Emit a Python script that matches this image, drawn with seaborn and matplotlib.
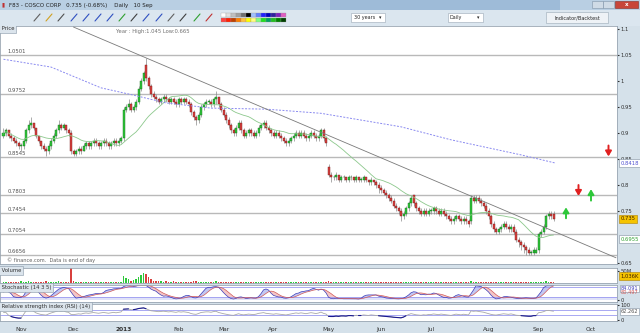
import matplotlib
matplotlib.use("Agg")
import matplotlib.pyplot as plt
import matplotlib.transforms as mtransforms
from matplotlib.patches import Rectangle
import numpy as np
import pandas as pd
import seaborn as sns

# Daily prices (SGD), one row per month, 22 Oct 2012 -> 10 Sep 2013
opens = [
    0.895, 0.900, 0.905, 0.895, 0.890, 0.885, 0.880,
    0.875, 0.875, 0.885, 0.905, 0.915, 0.920, 0.910, 0.895, 0.885, 0.875, 0.870, 0.865, 0.875, 0.885, 0.895, 0.905, 0.915, 0.910, 0.915, 0.905, 0.900,
    0.865, 0.860, 0.865, 0.870, 0.865, 0.875, 0.880, 0.875, 0.880, 0.885, 0.880, 0.875, 0.880, 0.885, 0.880, 0.875, 0.880, 0.885, 0.880, 0.885,
    0.890, 0.945, 0.950, 0.955, 0.945, 0.950, 0.960, 0.985, 1.000, 1.030, 1.005, 0.990, 0.975, 0.970, 0.965, 0.960, 0.965, 0.970, 0.965, 0.960, 0.965, 0.960,
    0.955, 0.965, 0.960, 0.965, 0.960, 0.955, 0.940, 0.930, 0.925, 0.935, 0.950, 0.955, 0.960, 0.960, 0.955, 0.965, 0.970, 0.955,
    0.945, 0.935, 0.925, 0.915, 0.905, 0.900, 0.910, 0.920, 0.905, 0.895, 0.900, 0.905, 0.900, 0.895, 0.900, 0.910, 0.915, 0.920, 0.910, 0.905,
    0.900, 0.895, 0.900, 0.895, 0.890, 0.885, 0.880, 0.885, 0.890, 0.895, 0.900, 0.895, 0.900, 0.895, 0.890, 0.895, 0.900, 0.895, 0.890, 0.895, 0.905, 0.890,
    0.835, 0.820, 0.815, 0.815, 0.820, 0.810, 0.815, 0.815, 0.810, 0.815, 0.815, 0.810, 0.815, 0.810, 0.810, 0.815, 0.810, 0.805, 0.810, 0.805, 0.800,
    0.795, 0.790, 0.785, 0.780, 0.775, 0.770, 0.760, 0.755, 0.750, 0.740, 0.745, 0.755, 0.765, 0.780, 0.765, 0.755, 0.750, 0.745, 0.750, 0.745,
    0.750, 0.750, 0.755, 0.750, 0.745, 0.750, 0.745, 0.740, 0.735, 0.730, 0.735, 0.740, 0.735, 0.730, 0.735, 0.730, 0.730, 0.775, 0.770, 0.775, 0.770, 0.765, 0.760,
    0.750, 0.740, 0.725, 0.715, 0.710, 0.715, 0.720, 0.725, 0.720, 0.715, 0.720, 0.710, 0.695, 0.690, 0.685, 0.680, 0.675, 0.670, 0.670, 0.670,
    0.675, 0.705, 0.710, 0.720, 0.740, 0.745, 0.745,
]
highs = [
    0.910, 0.910, 0.905, 0.900, 0.895, 0.890, 0.885,
    0.880, 0.890, 0.910, 0.925, 0.930, 0.920, 0.910, 0.895, 0.885, 0.880, 0.875, 0.880, 0.890, 0.900, 0.910, 0.925, 0.920, 0.920, 0.915, 0.910, 0.905,
    0.870, 0.870, 0.875, 0.875, 0.880, 0.885, 0.885, 0.885, 0.890, 0.890, 0.885, 0.885, 0.890, 0.890, 0.885, 0.885, 0.890, 0.890, 0.890, 0.895,
    0.950, 0.955, 0.965, 0.960, 0.955, 0.965, 0.990, 1.005, 1.020, 1.045, 1.010, 0.995, 0.980, 0.975, 0.970, 0.970, 0.975, 0.975, 0.970, 0.970, 0.970, 0.965,
    0.970, 0.970, 0.970, 0.970, 0.965, 0.960, 0.945, 0.935, 0.940, 0.955, 0.960, 0.965, 0.965, 0.965, 0.970, 0.980, 0.970, 0.960,
    0.950, 0.940, 0.930, 0.920, 0.910, 0.915, 0.925, 0.925, 0.910, 0.905, 0.910, 0.910, 0.905, 0.905, 0.915, 0.920, 0.925, 0.925, 0.915, 0.910,
    0.905, 0.905, 0.905, 0.900, 0.895, 0.890, 0.890, 0.895, 0.900, 0.905, 0.905, 0.905, 0.905, 0.900, 0.900, 0.905, 0.905, 0.900, 0.900, 0.910, 0.910, 0.895,
    0.840, 0.825, 0.820, 0.825, 0.820, 0.820, 0.820, 0.815, 0.820, 0.820, 0.815, 0.820, 0.815, 0.815, 0.820, 0.815, 0.810, 0.815, 0.810, 0.810, 0.805,
    0.800, 0.795, 0.790, 0.785, 0.780, 0.775, 0.765, 0.760, 0.755, 0.750, 0.760, 0.770, 0.780, 0.780, 0.770, 0.760, 0.755, 0.755, 0.755, 0.755,
    0.755, 0.760, 0.760, 0.755, 0.755, 0.755, 0.750, 0.745, 0.740, 0.740, 0.745, 0.745, 0.740, 0.740, 0.740, 0.735, 0.780, 0.780, 0.780, 0.780, 0.775, 0.770, 0.765,
    0.755, 0.745, 0.730, 0.720, 0.720, 0.725, 0.730, 0.730, 0.725, 0.725, 0.725, 0.715, 0.700, 0.695, 0.690, 0.685, 0.680, 0.675, 0.680, 0.680,
    0.710, 0.715, 0.725, 0.745, 0.750, 0.750, 0.750,
]
lows = [
    0.890, 0.895, 0.890, 0.885, 0.880, 0.875, 0.870,
    0.865, 0.870, 0.880, 0.900, 0.910, 0.905, 0.890, 0.880, 0.870, 0.865, 0.855, 0.860, 0.870, 0.880, 0.890, 0.900, 0.905, 0.905, 0.900, 0.895, 0.860,
    0.855, 0.855, 0.860, 0.860, 0.865, 0.870, 0.870, 0.870, 0.875, 0.875, 0.870, 0.870, 0.875, 0.875, 0.870, 0.870, 0.875, 0.875, 0.875, 0.880,
    0.885, 0.940, 0.945, 0.940, 0.940, 0.945, 0.955, 0.980, 0.995, 1.000, 0.985, 0.970, 0.965, 0.960, 0.955, 0.955, 0.960, 0.960, 0.955, 0.955, 0.955, 0.950,
    0.950, 0.955, 0.955, 0.955, 0.950, 0.935, 0.925, 0.915, 0.920, 0.930, 0.945, 0.950, 0.955, 0.950, 0.950, 0.955, 0.950, 0.940,
    0.930, 0.920, 0.910, 0.900, 0.895, 0.895, 0.905, 0.900, 0.890, 0.890, 0.895, 0.895, 0.890, 0.890, 0.895, 0.905, 0.910, 0.905, 0.900, 0.895,
    0.890, 0.890, 0.890, 0.885, 0.880, 0.875, 0.875, 0.880, 0.885, 0.890, 0.890, 0.890, 0.890, 0.885, 0.885, 0.890, 0.890, 0.885, 0.885, 0.890, 0.885, 0.875,
    0.815, 0.805, 0.810, 0.810, 0.805, 0.805, 0.810, 0.805, 0.805, 0.810, 0.805, 0.805, 0.805, 0.805, 0.805, 0.805, 0.800, 0.800, 0.800, 0.795, 0.785,
    0.785, 0.780, 0.775, 0.770, 0.765, 0.755, 0.750, 0.745, 0.730, 0.735, 0.740, 0.750, 0.760, 0.760, 0.750, 0.745, 0.740, 0.740, 0.740, 0.740,
    0.745, 0.745, 0.745, 0.740, 0.740, 0.740, 0.735, 0.730, 0.725, 0.725, 0.730, 0.730, 0.725, 0.725, 0.725, 0.720, 0.725, 0.765, 0.765, 0.765, 0.760, 0.755, 0.745,
    0.735, 0.720, 0.710, 0.705, 0.705, 0.710, 0.715, 0.715, 0.710, 0.710, 0.705, 0.690, 0.680, 0.675, 0.670, 0.665, 0.665, 0.665, 0.665, 0.670,
    0.670, 0.700, 0.705, 0.715, 0.735, 0.735, 0.730,
]
closes = [
    0.900, 0.905, 0.895, 0.890, 0.885, 0.880, 0.875,
    0.875, 0.885, 0.905, 0.915, 0.920, 0.910, 0.895, 0.885, 0.875, 0.870, 0.865, 0.875, 0.885, 0.895, 0.905, 0.915, 0.910, 0.915, 0.905, 0.900, 0.865,
    0.860, 0.865, 0.870, 0.865, 0.875, 0.880, 0.875, 0.880, 0.885, 0.880, 0.875, 0.880, 0.885, 0.880, 0.875, 0.880, 0.885, 0.880, 0.885, 0.890,
    0.945, 0.950, 0.955, 0.945, 0.950, 0.960, 0.985, 1.000, 1.015, 1.005, 0.990, 0.975, 0.970, 0.965, 0.960, 0.965, 0.970, 0.965, 0.960, 0.965, 0.960, 0.955,
    0.965, 0.960, 0.965, 0.960, 0.955, 0.940, 0.930, 0.925, 0.935, 0.950, 0.955, 0.960, 0.960, 0.955, 0.965, 0.970, 0.955, 0.945,
    0.935, 0.925, 0.915, 0.905, 0.900, 0.910, 0.920, 0.905, 0.895, 0.900, 0.905, 0.900, 0.895, 0.900, 0.910, 0.915, 0.920, 0.910, 0.905, 0.900,
    0.895, 0.900, 0.895, 0.890, 0.885, 0.880, 0.885, 0.890, 0.895, 0.900, 0.895, 0.900, 0.895, 0.890, 0.895, 0.900, 0.895, 0.890, 0.895, 0.905, 0.890, 0.880,
    0.820, 0.815, 0.815, 0.820, 0.810, 0.815, 0.815, 0.810, 0.815, 0.815, 0.810, 0.815, 0.810, 0.810, 0.815, 0.810, 0.805, 0.810, 0.805, 0.800, 0.795,
    0.790, 0.785, 0.780, 0.775, 0.770, 0.760, 0.755, 0.750, 0.740, 0.745, 0.755, 0.765, 0.775, 0.765, 0.755, 0.750, 0.745, 0.750, 0.745, 0.750,
    0.750, 0.755, 0.750, 0.745, 0.750, 0.745, 0.740, 0.735, 0.730, 0.735, 0.740, 0.735, 0.730, 0.735, 0.730, 0.725, 0.775, 0.770, 0.775, 0.770, 0.765, 0.760, 0.750,
    0.740, 0.725, 0.715, 0.710, 0.715, 0.720, 0.725, 0.720, 0.715, 0.720, 0.710, 0.695, 0.690, 0.685, 0.680, 0.675, 0.670, 0.670, 0.675, 0.675,
    0.705, 0.710, 0.720, 0.740, 0.745, 0.740, 0.735,
]
# volume in millions of shares
volumes = [
    5, 6, 4, 5, 3, 4, 6,
    7, 5, 6, 8, 5, 4, 6, 5, 4, 6, 7, 5, 4, 5, 6, 7, 4, 5, 4, 6, 62,
    8, 5, 4, 5, 6, 4, 5, 4, 5, 4, 3, 4, 5, 4, 5, 3, 3, 4, 3, 4,
    30, 20, 15, 10, 12, 15, 25, 35, 40, 38, 25, 15, 10, 8, 9, 7, 6, 8, 6, 5, 7, 6,
    5, 6, 5, 4, 5, 6, 7, 8, 6, 5, 4, 5, 4, 5, 6, 7, 5, 4,
    6, 5, 6, 5, 4, 5, 6, 5, 4, 3, 4, 5, 4, 3, 4, 5, 6, 4, 3, 3,
    4, 3, 4, 5, 4, 3, 4, 3, 3, 4, 3, 4, 3, 3, 4, 3, 3, 4, 3, 4, 5, 6,
    10, 6, 4, 3, 4, 3, 3, 4, 3, 3, 4, 3, 3, 4, 3, 3, 4, 3, 4, 5, 5,
    5, 4, 4, 5, 4, 5, 6, 5, 6, 5, 4, 4, 5, 4, 3, 3, 4, 3, 3, 4,
    3, 4, 3, 3, 4, 3, 3, 4, 3, 3, 4, 3, 3, 4, 3, 4, 9, 5, 4, 3, 4, 3, 4,
    4, 5, 4, 3, 4, 3, 4, 3, 3, 4, 3, 5, 5, 4, 5, 4, 3, 4, 3, 4,
    5, 4, 5, 7, 6, 4, 3,
]

# long moving average (blue dashed): trading-day index, price
long_ma_x = [0, 19, 39, 52, 65, 83, 105, 127, 159, 179, 207, 221]
long_ma_y = [1.042, 1.027, 0.987, 0.973, 0.958, 0.948, 0.946, 0.938, 0.912, 0.887, 0.858, 0.842]

# downtrend line through the January high
trend_x = [28, 245]
trend_y = [1.104, 0.660]

levels = [1.0501, 0.9752, 0.8545, 0.7803, 0.7454, 0.7054, 0.6656]
level_labels = ["1.0501", "0.9752", "0.8545", "0.7803", "0.7454", "0.7054", "0.6656"]

# alert arrows: index, price at tail, price at head
sell_alerts = [(242, 0.876, 0.855), (230, 0.800, 0.779)]
buy_alerts = [(235, 0.770, 0.792), (225, 0.736, 0.757)]

month_labels = ["Nov", "Dec", "2013", "Feb", "Mar", "Apr", "May", "Jun", "Jul", "Aug", "Sep", "Oct"]
price_ticks = [1.1, 1.05, 1.0, 0.95, 0.9, 0.85, 0.8, 0.75, 0.65]

# SGX holidays in the period
holidays = ["2012-10-26", "2012-11-13", "2012-12-25", "2013-01-01", "2013-02-11",
            "2013-02-12", "2013-03-29", "2013-05-01", "2013-05-24", "2013-08-08", "2013-08-09"]

sns.set_style("white")
plt.rcParams['font.family'] = ['DejaVu Sans']

bday = pd.offsets.CustomBusinessDay(holidays=holidays)
all_dates = pd.date_range("2012-10-22", "2013-10-31", freq=bday)
n = len(closes)
df = pd.DataFrame({"date": all_dates[:n], "open": opens, "high": highs,
                   "low": lows, "close": closes, "volume": volumes})
df["i"] = np.arange(n)
df["ma20"] = df["close"].rolling(20, min_periods=1).mean()

# stochastic (14, 3, 5)
ll = df["low"].rolling(14, min_periods=1).min()
hh = df["high"].rolling(14, min_periods=1).max()
fast_k = 100 * (df["close"] - ll) / (hh - ll).replace(0, np.nan)
df["stoch_k"] = fast_k.fillna(50).rolling(3, min_periods=1).mean()
df["stoch_d"] = df["stoch_k"].rolling(5, min_periods=1).mean()

# RSI (14)
delta = df["close"].diff().fillna(0)
gain = delta.clip(lower=0).ewm(alpha=1 / 14, adjust=False).mean()
loss = (-delta.clip(upper=0)).ewm(alpha=1 / 14, adjust=False).mean()
df["rsi"] = (100 - 100 / (1 + gain / loss.replace(0, np.nan))).fillna(50)

W, H = 640, 333
fig = plt.figure(figsize=(6.4, 3.33), dpi=100)
fig.patch.set_facecolor("#d5e1ea")


def px_rect(x0, y0, x1, y1, **kw):
    r = Rectangle((x0 / W, 1 - y1 / H), (x1 - x0) / W, (y1 - y0) / H,
                  transform=fig.transFigure, **kw)
    fig.add_artist(r)


def px_text(x, y, s, **kw):
    fig.text(x / W, 1 - y / H, s, **kw)


def add_ax(x0, y0, x1, y1):
    return fig.add_axes([x0 / W, 1 - y1 / H, (x1 - x0) / W, (y1 - y0) / H])


# window title bar and toolbar
px_rect(0, 0, 640, 10, facecolor="#b9cfe3", edgecolor="none")
px_rect(330, 0, 560, 10, facecolor="#9ebbd8", edgecolor="none")
px_rect(0, 10, 640, 26, facecolor="#dbe6ef", edgecolor="none")
px_text(1, 5, "\u25ae", fontsize=4, color="#c03030", va="center")
px_text(9, 5, "F83 - COSCO CORP   0.735 (-0.68%)    Daily   10 Sep", fontsize=4, va="center", color="#202020")
px_rect(592, 1, 603, 8, facecolor="#cfdbe6", edgecolor="#7f93a8", lw=0.4)
px_rect(603, 1, 614, 8, facecolor="#cfdbe6", edgecolor="#7f93a8", lw=0.4)
px_rect(615, 1, 638, 8, facecolor="#c8463a", edgecolor="#8a2a20", lw=0.4)
px_text(626.5, 4.5, "x", fontsize=4, color="white", ha="center", va="center", fontweight="bold")

# toolbar icons (simplified)
icon_x = [37, 49, 61, 74, 86, 98, 110, 122, 134, 146, 159, 171, 183, 197, 209]
icon_c = ["#606060", "#d0a020", "#505050", "#3050c0", "#3050c0", "#3050c0", "#3050c0", "#30a030",
          "#404040", "#3050c0", "#3050c0", "#606060", "#404040", "#30a030", "#c03030"]
for x, c in zip(icon_x, icon_c):
    fig.add_artist(plt.Line2D([(x - 3) / W, (x + 3) / W], [1 - 21 / H, 1 - 14 / H], color=c, lw=0.8,
                              transform=fig.transFigure))
palette_top = ["#ffffff", "#e0e0e0", "#c0c0c0", "#a0a0a0", "#707070", "#000000", "#a0c0ff",
               "#6080ff", "#2020ff", "#0000c0", "#3020a0", "#8020c0", "#e060c0"]
palette_bot = ["#ff4040", "#ff2000", "#c04000", "#ff8000", "#ffc040", "#ffff00", "#ffff80",
               "#80ff80", "#20e020", "#00a060", "#20c020", "#008000", "#004000"]
for k, (ct, cb) in enumerate(zip(palette_top, palette_bot)):
    px_rect(221 + 5 * k, 13, 225.5 + 5 * k, 17.3, facecolor=ct, edgecolor="#909090", lw=0.2)
    px_rect(221 + 5 * k, 17.8, 225.5 + 5 * k, 22, facecolor=cb, edgecolor="#909090", lw=0.2)
px_rect(351, 13, 385, 22, facecolor="white", edgecolor="#9aa8b5", lw=0.4)
px_text(354, 17.5, "30 years", fontsize=3.5, va="center")
px_text(380, 17.5, "\u25be", fontsize=3.5, va="center", ha="center")
px_rect(448, 13, 483, 22, facecolor="white", edgecolor="#9aa8b5", lw=0.4)
px_text(450, 17.5, "Daily", fontsize=3.5, va="center")
px_text(478, 17.5, "\u25be", fontsize=3.5, va="center", ha="center")
px_rect(546, 12, 608, 23, facecolor="#eef2f6", edgecolor="#9aa8b5", lw=0.4)
px_text(577, 17.5, "Indicator/Backtest", fontsize=3.6, va="center", ha="center")

ax_p = add_ax(0, 26, 617, 264)
ax_v = add_ax(0, 268, 617, 283)
ax_s = add_ax(0, 285, 617, 302)
ax_r = add_ax(0, 304, 617, 321)

up = df["close"] >= df["open"]
body_col = np.where(up, "#2ec83a", "#d8403e")
edge_col = np.where(up, "#166a1c", "#7a1a18")

# price panel
for lv, lab in zip(levels, level_labels):
    ax_p.axhline(lv, color="#b9b9b9", lw=1.0, zorder=1)
    ax_p.text(1.5, lv + 0.002, lab, fontsize=3.8, color="#505050", va="bottom", ha="left", zorder=5)
ax_p.vlines(df["i"], df["low"], df["high"], color="#8a8a8a", lw=0.5, zorder=2)
body = (df["close"] - df["open"]).abs().clip(lower=0.0012)
ax_p.bar(df["i"], body, bottom=np.minimum(df["open"], df["close"]), width=0.8,
         color=body_col, edgecolor=edge_col, linewidth=0.3, zorder=3)
sns.lineplot(x=df["i"], y=df["ma20"], ax=ax_p, color="#8cc88c", lw=0.6, zorder=4)
sns.lineplot(x=long_ma_x, y=long_ma_y, ax=ax_p, color="#8a8af0", lw=0.7, linestyle=(0, (2, 1.5)), zorder=4)
sns.lineplot(x=trend_x, y=trend_y, ax=ax_p, color="#7a7a7a", lw=0.6, zorder=4)
for x, y0, y1 in sell_alerts:
    ax_p.annotate("", xy=(x, y1), xytext=(x, y0),
                  arrowprops=dict(arrowstyle="-|>,head_length=0.5,head_width=0.3", color="#e02020",
                                  lw=1.4, mutation_scale=6, shrinkA=0, shrinkB=0))
for x, y0, y1 in buy_alerts:
    ax_p.annotate("", xy=(x, y1), xytext=(x, y0),
                  arrowprops=dict(arrowstyle="-|>,head_length=0.5,head_width=0.3", color="#2ec83a",
                                  lw=1.4, mutation_scale=6, shrinkA=0, shrinkB=0))
ax_p.set_ylim(0.648, 1.106)
ax_p.set_yticks(price_ticks)
ax_p.set_yticklabels([f"{t:g}" for t in price_ticks])
ax_p.text(45, 1.101, "Year : High:1.045 Low:0.665", fontsize=3.8, color="#707070", va="top")
ax_p.text(1.5, 0.6495, "\u00a9 finance.com.  Data is end of day", fontsize=3.6, color="#606060", va="bottom")

# right-hand value tags
blend_p = mtransforms.blended_transform_factory(ax_p.transAxes, ax_p.transData)
ax_p.text(1.006, 0.8418, "0.8418", transform=blend_p, fontsize=3.8, color="#5050d0", va="center",
          bbox=dict(boxstyle="square,pad=0.25", fc="white", ec="#8090a0", lw=0.4))
ax_p.text(1.006, 0.735, "0.735", transform=blend_p, fontsize=3.8, color="#402000", va="center",
          bbox=dict(boxstyle="square,pad=0.3", fc="#f5c400", ec="#b08000", lw=0.4))
ax_p.text(1.006, 0.6955, "0.6955", transform=blend_p, fontsize=3.8, color="#30a030", va="center",
          bbox=dict(boxstyle="square,pad=0.25", fc="white", ec="#8090a0", lw=0.4))

# volume panel
ax_v.bar(df["i"], df["volume"], width=0.7, color=body_col, linewidth=0)
ax_v.set_ylim(0, 62.5)
ax_v.set_yticks([50])
ax_v.set_yticklabels(["50M"])
ax_v.text(1.006, 0.45, "1,036K", transform=ax_v.transAxes, fontsize=3.8, color="#402000", va="center",
          bbox=dict(boxstyle="square,pad=0.3", fc="#f5c400", ec="#b08000", lw=0.4))

# stochastic panel
ax_s.axhspan(0, 20, color="#dfe2f8", lw=0)
ax_s.axhline(80, color="#9a9af0", lw=0.6)
ax_s.axhline(20, color="#9a9af0", lw=0.6)
k_line = df["stoch_k"]
d_line = df["stoch_d"]
ax_s.fill_between(df["i"], k_line, d_line, where=k_line >= d_line, interpolate=True, color="#c2c8f2", lw=0)
ax_s.fill_between(df["i"], k_line, d_line, where=k_line < d_line, interpolate=True, color="#f4c6c6", lw=0)
sns.lineplot(x=df["i"], y=k_line, ax=ax_s, color="#3a3ab8", lw=0.5)
sns.lineplot(x=df["i"], y=d_line, ax=ax_s, color="#d05858", lw=0.5)
ax_s.set_ylim(-12, 93)
ax_s.set_yticks([0])
ax_s.set_yticklabels(["0"])
ax_s.text(1.006, 0.82, "84.091", transform=ax_s.transAxes, fontsize=3.6, color="#3a3ab8", va="center",
          bbox=dict(boxstyle="square,pad=0.2", fc="white", ec="#8090a0", lw=0.4))
ax_s.text(1.006, 0.55, "80.497", transform=ax_s.transAxes, fontsize=3.6, color="#d05858", va="center")

# RSI panel
ax_r.axhline(70, color="#9a9af0", lw=0.6)
ax_r.axhline(30, color="#9a9af0", lw=0.6)
sns.lineplot(x=df["i"], y=df["rsi"], ax=ax_r, color="#a8a8a8", lw=0.6)
rsi_hi = df["rsi"].where(df["rsi"] >= 70)
rsi_lo = df["rsi"].where(df["rsi"] <= 30)
ax_r.plot(df["i"], rsi_hi, color="#1a1a90", lw=0.8)
ax_r.plot(df["i"], rsi_lo, color="#1a1a90", lw=0.8)
ax_r.set_yticks([100, 0])
ax_r.set_yticklabels(["100", "0"])
ax_r.set_ylim(-8, 109)
ax_r.text(1.006, 0.55, "62.262", transform=ax_r.transAxes, fontsize=3.6, color="#505050", va="center",
          bbox=dict(boxstyle="square,pad=0.2", fc="white", ec="#8090a0", lw=0.4))

# month ticks at first trading day of each month
month_pos = []
for m in pd.period_range("2012-11", "2013-10", freq="M"):
    month_pos.append(int(np.argmax(all_dates.to_period("M") == m)))
ax_r.set_xticks(month_pos)
ax_r.set_xticklabels(month_labels)
for lab in ax_r.get_xticklabels():
    if lab.get_text() == "2013":
        lab.set_fontweight("bold")
ax_r.tick_params(axis="x", labelsize=4.2, length=1.5, pad=2.5, colors="#303030")

panel_titles = [(ax_p, "Price", 45), (ax_v, "Volume", 50), (ax_s, "Stochastic (14 3 5)", 77),
                (ax_r, "Relative strength index (RSI) (14)", 108)]
for ax, title, w in panel_titles:
    ax.set_xlim(-1.4, 245.4)
    ax.set_xlabel("")
    ax.set_ylabel("")
    ax.set_facecolor("white")
    ax.yaxis.tick_right()
    ax.tick_params(axis="y", labelsize=3.8, length=1.5, pad=1.2, colors="#303030")
    if ax is not ax_r:
        ax.set_xticks([])
    for sp in ax.spines.values():
        sp.set_color("#9aa6b2")
        sp.set_linewidth(0.6)
    lg = ax.get_legend()
    if lg is not None:
        lg.remove()
    ax.text(0, 1, " " + title, transform=ax.transAxes, fontsize=3.8, va="top", ha="left", color="#303030",
            bbox=dict(boxstyle="square,pad=0.35", fc="#dbe4ec", ec="#8898a8", lw=0.4), zorder=10)

fig.savefig("out.png", dpi=100, facecolor=fig.get_facecolor())
